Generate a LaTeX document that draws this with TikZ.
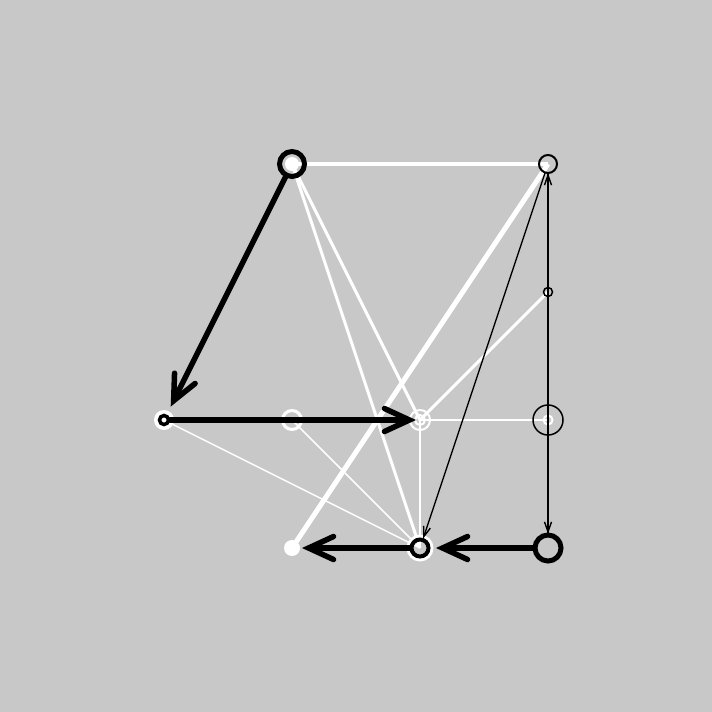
\documentclass[tikz,border=0pt]{standalone}
\usetikzlibrary{arrows.meta}
\begin{document}
\begin{tikzpicture}[x=1pt,y=-1pt,
  vx/.style={coordinate},
  wedge/.style={draw=white,line width=#1},
  bedge/.style={draw=black,line width=#1},
  bigarrow/.style={draw=black,line width=5.5pt,line cap=round,-{Straight Barb[length=25pt,width=23pt,line cap=round]}},
  thinarrow/.style={draw=black,line width=1.4pt,-{Straight Barb[length=10pt,width=7pt]}},
  wring/.style={draw=white,line width=#1},
  bring/.style={draw=black,line width=#1}]
\fill[fill={rgb,255:red,200;green,200;blue,200}] (0,0) rectangle (712,712);
\useasboundingbox (0,0) rectangle (712,712);
\node[vx] (A) at (292,164) {};
\node[vx] (B) at (548,164) {};
\node[vx] (C) at (548,292) {};
\node[vx] (D) at (164,420) {};
\node[vx] (E) at (292,420) {};
\node[vx] (F) at (420,420) {};
\node[vx] (G) at (548,420) {};
\node[vx] (H) at (292,548) {};
\node[vx] (I) at (420,548) {};
\node[vx] (J) at (548,548) {};
% white layer edges
\draw[wedge=4.5pt] (A) -- (B);
\draw[wedge=5pt] (B) -- (H);
\draw[wedge=3pt] (A) -- (F);
\draw[wedge=3pt] (A) -- (I);
\draw[wedge=3pt] (C) -- (F);
\draw[wedge=2pt] (F) -- (G);
\draw[wedge=2pt] (F) -- (I);
\draw[wedge=1.5pt] (D) -- (I);
\draw[wedge=1.5pt] (E) -- (I);
% white layer nodes
\fill[white] (A) circle (7);
\fill[white] (D) circle (10);
\draw[wring=3pt] (E) circle (9.5);
\draw[wring=2pt] (F) circle (10);
\draw[wring=2pt] (F) circle (5);
\draw[wring=2pt] (G) circle (4.5);
\fill[white] (H) circle (8);
\draw[wring=3pt] (I) circle (12);
% black layer edges
\draw[bigarrow,shorten <=15pt,shorten >=15pt] (A) -- (D);
\draw[bigarrow,shorten <=6pt,shorten >=4pt] (D) -- (F);
\draw[bigarrow,shorten <=10pt,shorten >=10pt] (I) -- (H);
\draw[bigarrow,shorten <=15pt,shorten >=16pt] (J) -- (I);
\draw[thinarrow,shorten <=9pt,shorten >=10pt] (B) -- (I);
\draw[thinarrow,shorten <=9pt,shorten >=14pt] (B) -- (J);
\draw[thinarrow,shorten <=14pt,shorten >=9pt] (J) -- (B);
% black layer nodes
\draw[bring=5pt] (A) circle (12.5);
\draw[bring=2pt] (B) circle (9);
\draw[bring=1.5pt] (C) circle (4.5);
\draw[bring=3.5pt] (D) circle (4.5);
\draw[bring=1.5pt] (G) circle (15);
\draw[bring=4pt] (I) circle (8.5);
\draw[bring=5pt] (J) circle (13);
\end{tikzpicture}
\end{document}
